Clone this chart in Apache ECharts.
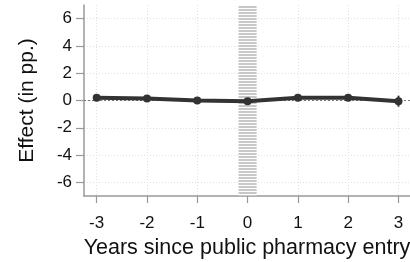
<!DOCTYPE html>
<html><head><meta charset="utf-8">
<script src="https://cdn.jsdelivr.net/npm/echarts@6/dist/echarts.min.js"></script>
<style>html,body{margin:0;padding:0;background:#fff}#c{width:410px;height:262px}</style>
</head><body><div id="c"></div>
<script>
const years = [-3, -2, -1, 0, 1, 2, 3];
const effect = [0.2, 0.15, 0.0, -0.05, 0.2, 0.2, -0.05];
const ciLow = [0.1, 0.05, -0.1, -0.15, 0.1, 0.1, -0.45];
const ciHigh = [0.3, 0.25, 0.1, 0.05, 0.3, 0.3, 0.35];
const xTicks = [-3, -2, -1, 0, 1, 2, 3];
const yTicks = [-6, -4, -2, 0, 2, 4, 6];
const bandRange = [-0.18, 0.18];

const cv = document.createElement('canvas');
cv.width = 4; cv.height = 3;
const cx = cv.getContext('2d');
cx.fillStyle = '#ffffff'; cx.fillRect(0, 0, 4, 3);
cx.fillStyle = '#c8c8c8'; cx.fillRect(0, 0, 4, 2);

const chart = echarts.init(document.getElementById('c'), null, {renderer: 'canvas'});
const font = 'Liberation Sans';
chart.setOption({
  animation: false,
  grid: {left: 84, right: 0, top: 5, bottom: 66, containLabel: false, outerBoundsMode: 'none'},
  xAxis: {
    type: 'value', min: -3.252, max: 3.229,
    name: 'Years since public pharmacy entry', nameLocation: 'middle', nameGap: 40,
    nameTextStyle: {fontFamily: font, fontSize: 21.5, color: '#111'},
    axisLine: {show: true, onZero: false, lineStyle: {color: '#999', width: 1.5}},
    axisTick: {show: true, customValues: xTicks, length: 7, lineStyle: {color: '#999', width: 1.2}},
    axisLabel: {customValues: xTicks, fontFamily: font, fontSize: 17, color: '#111', margin: 19},
    splitLine: {show: true, lineStyle: {color: '#e0e0e0', type: [1, 2], width: 1}}
  },
  yAxis: {
    type: 'value', min: -7, max: 7,
    name: 'Effect (in pp.)', nameLocation: 'middle', nameGap: 46,
    nameTextStyle: {fontFamily: font, fontSize: 21, color: '#111'},
    axisLine: {show: true, onZero: false, lineStyle: {color: '#999', width: 1.5}},
    axisTick: {show: true, customValues: yTicks, length: 8, lineStyle: {color: '#999', width: 1.2}},
    axisLabel: {customValues: yTicks, fontFamily: font, fontSize: 17, color: '#111', margin: 12},
    splitLine: {show: true, lineStyle: {color: '#e0e0e0', type: [1, 2], width: 1}}
  },
  series: [
    {
      type: 'line', data: years.map((y, i) => [y, effect[i]]),
      lineStyle: {color: '#333', width: 4}, itemStyle: {color: '#333'},
      symbol: 'circle', symbolSize: 8, z: 5,
      markArea: {
        silent: true,
        itemStyle: {color: {image: cv, repeat: 'repeat'}},
        data: [[{xAxis: bandRange[0], yAxis: 7}, {xAxis: bandRange[1], yAxis: -7}]]
      },
      markLine: {
        silent: true, symbol: 'none', label: {show: false},
        lineStyle: {color: '#777', type: [2, 2], width: 1},
        data: [{yAxis: 0}]
      }
    },
    {
      type: 'custom', z: 6,
      data: years.map((y, i) => [y, ciLow[i], ciHigh[i]]),
      renderItem: function (params, api) {
        const p1 = api.coord([api.value(0), api.value(1)]);
        const p2 = api.coord([api.value(0), api.value(2)]);
        return {type: 'line', shape: {x1: p1[0], y1: p1[1], x2: p2[0], y2: p2[1]},
          style: {stroke: '#333', lineWidth: 2}};
      }
    }
  ]
});
</script></body></html>
